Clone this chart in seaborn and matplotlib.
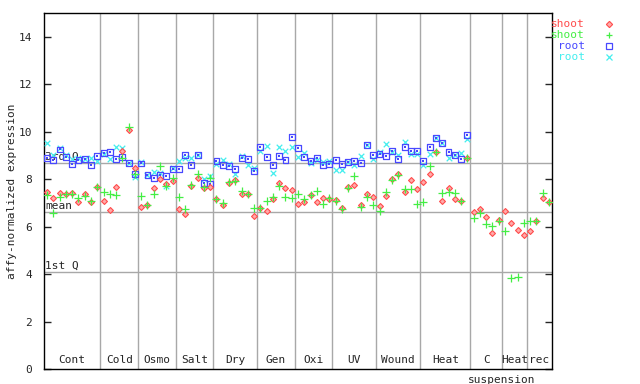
import numpy as np
import pandas as pd
import seaborn as sns
import matplotlib.pyplot as plt
from matplotlib.lines import Line2D

# conditions along the x axis and how many samples each one has
groups = ['Cont', 'Cold', 'Osmo', 'Salt', 'Dry', 'Gen', 'Oxi', 'UV', 'Wound', 'Heat', 'C', 'Heat', 'rec']
group_sizes = [9, 6, 6, 6, 7, 6, 6, 7, 7, 8, 5, 4, 4]

# shoot replicate 1 (red) and 2 (green)
shoot_a = [7.47, 7.22, 7.43, 7.37, 7.43, 7.05, 7.36, 7.02, 7.68,
           7.09, 6.68, 7.68, 9.18, 10.07, 8.47,
           6.84, 6.91, 7.61, 8.02, 7.81, 7.92,
           6.75, 6.55, 7.71, 8.03, 7.61, 7.67,
           7.15, 6.91, 7.85, 7.96, 7.37, 7.37, 6.44,
           6.79, 6.65, 7.17, 7.83, 7.62, 7.54,
           6.95, 7.03, 7.33, 7.03, 7.20, 7.17,
           7.12, 6.79, 7.67, 7.75, 6.91, 7.37, 7.24,
           6.86, 7.29, 8.02, 8.21, 7.45, 7.96, 7.58,
           7.88, 8.21, 9.14, 7.07, 7.64, 7.16, 7.07, 8.89,
           6.61, 6.75, 6.40, 5.72, 6.29,
           6.65, 6.15, 5.85, 5.64,
           5.81, 6.23, 7.20, 7.03]
shoot_b = [7.33, 6.58, 7.24, 7.37, 7.37, 7.22, 7.30, 7.06, 7.68,
           7.47, 7.37, 7.34, 8.90, 10.21, 8.20,
           7.29, 6.91, 7.37, 8.55, 7.71, 8.06,
           7.24, 6.75, 7.75, 8.23, 7.65, 8.06,
           7.17, 6.98, 7.89, 7.92, 7.51, 7.37, 6.79,
           6.79, 7.07, 7.24, 7.71, 7.24, 7.20,
           7.37, 7.16, 7.33, 7.50, 6.95, 7.20,
           7.07, 6.75, 7.61, 8.13, 6.82, 7.24, 6.91,
           6.65, 7.45, 7.97, 8.17, 7.58, 7.58, 6.95,
           7.03, 8.55, 9.14, 7.41, 7.45, 7.41, 7.07, 8.89,
           6.37, 6.57, 6.11, 6.02, 6.23,
           5.81, 3.84, 3.87, 6.15,
           6.23, 6.23, 7.41, 7.03]
# root replicate 1 (blue) and 2 (cyan); no root samples after Heat
root_a = [8.89, 8.80, 9.25, 8.93, 8.65, 8.82, 8.83, 8.59, 8.99,
          9.11, 9.16, 8.85, 8.93, 8.69, 8.23,
          8.66, 8.16, 8.04, 8.17, 8.13, 8.44,
          8.42, 9.02, 8.59, 9.02, 7.83, 7.79,
          8.76, 8.59, 8.55, 8.44, 8.89, 8.85, 8.34,
          9.35, 8.93, 8.59, 8.97, 8.80, 9.77,
          9.31, 8.93, 8.76, 8.89, 8.59, 8.63,
          8.80, 8.63, 8.72, 8.76, 8.68, 9.44, 9.02,
          9.06, 8.97, 9.18, 8.85, 9.35, 9.18, 9.18,
          8.76, 9.35, 9.75, 9.52, 9.14, 9.02, 8.85, 9.87]
root_b = [9.51, 9.02, 9.32, 9.00, 8.83, 8.87, 8.83, 8.90, 8.76,
          9.04, 8.83, 9.35, 9.32, 8.69, 8.09,
          8.73, 8.17, 8.31, 8.27, 7.71, 8.48,
          8.76, 8.90, 8.87, 9.02, 8.02, 8.13,
          8.62, 8.80, 8.65, 8.20, 8.96, 8.59, 8.48,
          9.18, 9.39, 8.26, 9.35, 9.18, 9.35,
          8.93, 9.10, 8.68, 8.80, 8.72, 8.76,
          8.38, 8.38, 8.72, 8.59, 8.97, 9.44, 8.85,
          9.14, 9.48, 9.14, 9.02, 9.56, 9.06, 9.06,
          8.59, 9.06, 9.75, 9.52, 8.89, 9.02, 9.10, 9.69]

q3, mean_val, q1 = 8.68, 6.61, 4.08

n = len(shoot_a)
df = pd.DataFrame({
    'sample': np.arange(n),
    'shoot_a': pd.Series(shoot_a),
    'shoot_b': pd.Series(shoot_b),
    'root_a': pd.Series(root_a),
    'root_b': pd.Series(root_b),
})

red, green, blue, cyan = '#ff4c4c', '#44ee44', '#4848ff', '#44eeee'
pink = '#ffaaaa'

sns.set_style('ticks')
plt.rcParams['font.family'] = ['DejaVu Sans Mono']
plt.rcParams['font.size'] = 8

fig = plt.figure(figsize=(6.4, 3.84), dpi=100)
ax = fig.add_axes([44 / 640, 15 / 384, 508 / 640, 356 / 384])

# separators between conditions and summary lines
edges = np.cumsum(group_sizes)
for e in edges[:-1]:
    ax.axvline(e - 0.5, color='#a8a8a8', lw=1, zorder=1)
for v in (q3, mean_val, q1):
    ax.axhline(v, color='#a8a8a8', lw=1, zorder=1)

sns.scatterplot(data=df, x='sample', y='root_b', marker='x', color=cyan, s=16, linewidth=0.9, ax=ax, zorder=3)
sns.scatterplot(data=df, x='sample', y='root_a', marker='s', facecolors='none', edgecolor=blue, s=18, linewidth=0.9, ax=ax, zorder=4)
sns.scatterplot(data=df, x='sample', y='root_a', marker='s', color=blue, s=1, linewidth=0, ax=ax, zorder=4)
sns.scatterplot(data=df, x='sample', y='shoot_a', marker='D', facecolors=pink, edgecolor=red, s=9, linewidth=0.8, ax=ax, zorder=5)
sns.scatterplot(data=df, x='sample', y='shoot_b', marker='+', color=green, s=28, linewidth=0.9, ax=ax, zorder=6)

ax.set_xlim(-0.5, n - 0.5)
ax.set_ylim(0, 15)
ax.set_yticks(range(0, 15, 2))
ax.set_xticks([])
ax.set_xlabel('')
ax.set_ylabel('affy-normalized expression', fontsize=8)
ax.yaxis.set_label_coords(-27 / 508, 0.5)
ax.tick_params(axis='y', direction='in', length=5, width=1, right=True, left=True, pad=8.5)
for sp in ax.spines.values():
    sp.set_visible(True)
    sp.set_color('black')
    sp.set_linewidth(1)

ax.text(-0.3, q3 + 0.05, '3rd Q', va='bottom', ha='left', zorder=2)
ax.text(-0.3, mean_val + 0.05, 'mean', va='bottom', ha='left', zorder=2)
ax.text(-0.3, q1 + 0.05, '1st Q', va='bottom', ha='left', zorder=2)

# condition names inside the bottom of the plot
starts = np.concatenate([[0], edges[:-1]])
for name, s0, e in zip(groups, starts, edges):
    ax.text((s0 + e - 1) / 2, 0.15, name, ha='center', va='bottom')
ax.text(edges[10] - 0.5, -0.25, 'suspension', ha='center', va='top')

# legend outside on the right: right-aligned names, marker column
labels = ['shoot', 'shoot', 'root', 'root']
colors = [red, green, blue, cyan]
marks = [dict(marker='D', mfc=pink, mec=red, ms=3.2, mew=0.8),
         dict(marker='+', color=green, ms=5, mew=0.9),
         dict(marker='s', mfc='none', mec=blue, ms=4.2, mew=0.9),
         dict(marker='x', color=cyan, ms=4, mew=0.9)]
for k, (lab, c, m) in enumerate(zip(labels, colors, marks)):
    yf = 1 - (24 + 11 * k) / 384
    fig.text(585 / 640, yf, lab, color=c, ha='right', va='center')
    fig.add_artist(Line2D([609 / 640], [yf], transform=fig.transFigure, ls='none', **m))

fig.savefig('out.png', dpi=100)
